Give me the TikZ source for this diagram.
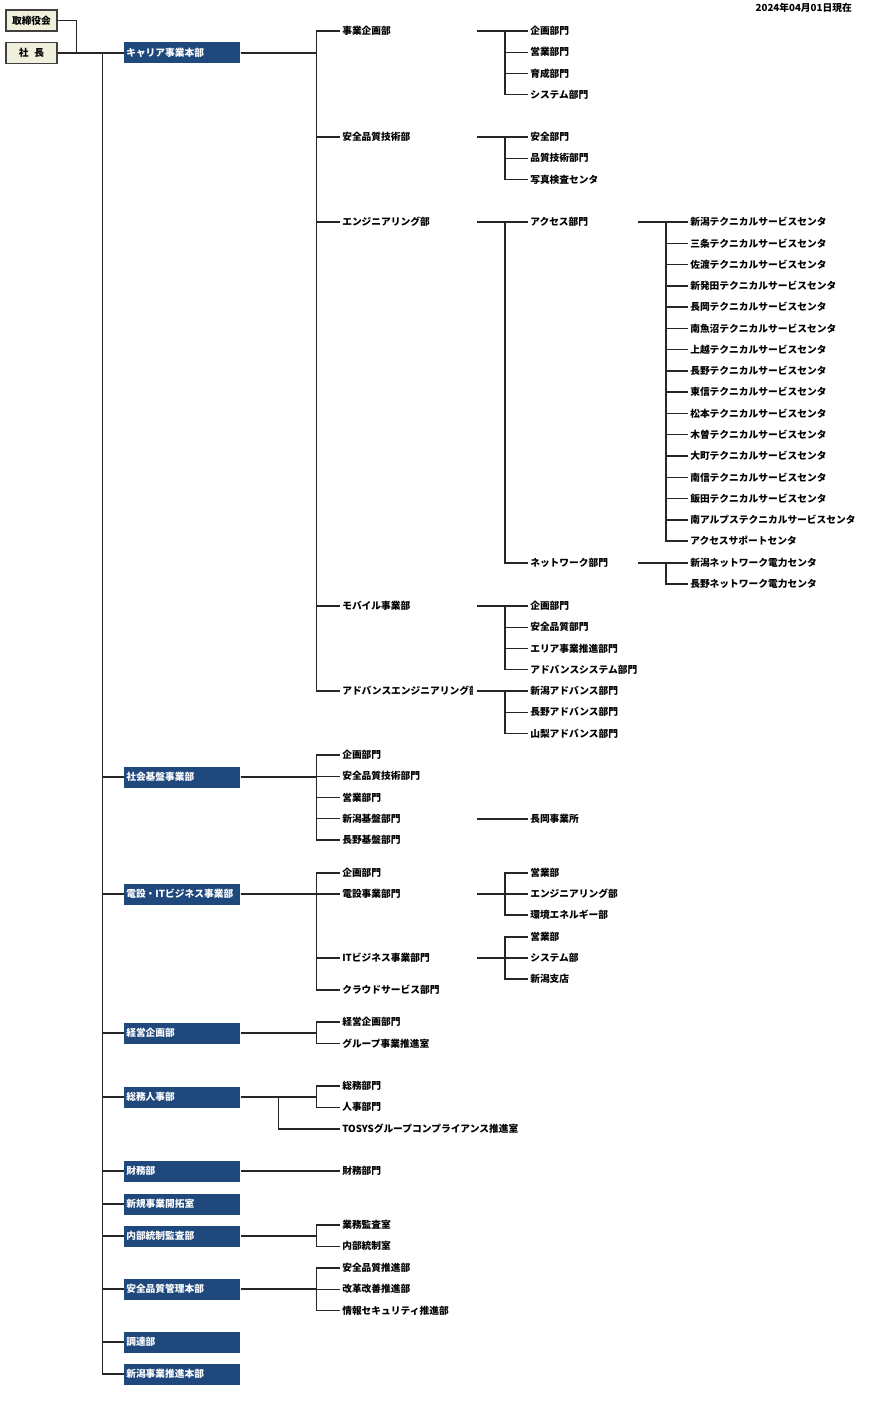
\documentclass[tikz,border=0pt]{standalone}
\usepackage{fontspec}
\setmainfont{Noto Sans CJK JP}
\usepackage{xcolor}
\usetikzlibrary{positioning}

\definecolor{hqblue}{HTML}{1F497D}
\definecolor{topbeige}{HTML}{EFEFDC}

\tikzset{
  unitbox/.style={fill=hqblue, text=white, anchor=west, minimum width=87pt,
    minimum height=15.75pt, text width=84pt, inner xsep=1.5pt, inner ysep=0pt,
    align=left, font=\bfseries\fontsize{7.3}{8}\selectfont},
  topbox/.style={draw=black!75, line width=1pt, fill=topbeige, minimum width=38.25pt,
    minimum height=15.75pt, inner sep=0pt, font=\bfseries\fontsize{7.3}{8}\selectfont},
  lbl/.style={anchor=west, inner xsep=1.5pt, inner ysep=1pt,
    font=\bfseries\fontsize{7.3}{8}\selectfont},
  tie/.style={line width=1.1pt, black!85}
}

\begin{document}
\begin{tikzpicture}[x=0.75pt,y=-0.75pt]
        \useasboundingbox (0,0) rectangle (868,1401);

        % Board and president
        \node[topbox] (board) at (31.5,20.5) {取締役会};
        \node[topbox] (pres) at (31.5,53) {社\hspace{0.6em}長};
        \node[lbl, anchor=east] (date) at (854,8) {2024年04月01日現在};
        \draw[tie] (board.east) -- ++(19,0) |- (pres.east);

        % Units on the main spine
        \foreach \name/\y/\txt in {cr/53/キャリア事業本部, sk/777/社会基盤事業部,
            ds/894/電設・ITビジネス事業部, kk/1033/経営企画部, sj/1097/総務人事部,
            zm/1171/財務部, sh/1204/新規事業開拓室, nb/1236/内部統制監査部,
            aq/1289/安全品質管理本部, ct/1342/調達部, nj/1374/新潟事業推進本部} {
            \node[unitbox] (\name) at (124,\y) {\txt};
            \draw[tie] (pres.east) -- ++(45,0) |- (\name.west);
        }

        % Career divisions
        \foreach \name/\y/\txt in {jk/31/事業企画部, ag/137/安全品質技術部,
            en/222/エンジニアリング部, mb/606/モバイル事業部} {
            \node[lbl] (\name) at (340,\y) {\txt};
            \draw[tie] (cr.east) -- ++(76,0) |- (\name.west);
        }
        \begin{scope}
            \clip (330,680) rectangle (472,702);
            \node[lbl] (ad) at (340,691) {アドバンスエンジニアリング部};
        \end{scope}
        \draw[tie] (cr.east) -- ++(76,0) |- (ad.west);

        % Departments of the career divisions
        \foreach \name/\y in {jk/31, ag/137, en/222, mb/606, ad/691}
            \coordinate (\name-o) at (477,\y);
        \foreach \p/\y/\kids in {jk/31/{企画部門,営業部門,育成部門,システム部門},
            ag/137/{安全部門,品質技術部門,写真検査センタ},
            mb/606/{企画部門,安全品質部門,エリア事業推進部門,アドバンスシステム部門},
            ad/691/{新潟アドバンス部門,長野アドバンス部門,山梨アドバンス部門}} {
            \foreach \t [count=\i] in \kids {
                \node[lbl] (\p\i) at (528,{\y+21.25*(\i-1)}) {\t};
                \draw[tie] (\p-o) -- ++(28,0) |- (\p\i.west);
            }
        }
        \node[lbl] (acc) at (528,222) {アクセス部門};
        \node[lbl] (nw) at (528,563) {ネットワーク部門};
        \draw[tie] (en-o) -- ++(28,0) |- (acc.west);
        \draw[tie] (en-o) -- ++(28,0) |- (nw.west);

        % Service centres
        \coordinate (acc-o) at (638,222);
        \foreach \t [count=\i] in {新潟,三条,佐渡,新発田,長岡,南魚沼,上越,長野,
            東信,松本,木曽,大町,南信,飯田,南アルプス} {
            \node[lbl] (ac\i) at (688,{222+21.27*(\i-1)}) {\t テクニカルサービスセンタ};
            \draw[tie] (acc-o) -- ++(28,0) |- (ac\i.west);
        }
        \node[lbl] (ac16) at (688,541) {アクセスサポートセンタ};
        \draw[tie] (acc-o) -- ++(28,0) |- (ac16.west);
        \coordinate (nw-o) at (638,563);
        \node[lbl] (nw1) at (688,563) {新潟ネットワーク電力センタ};
        \node[lbl] (nw2) at (688,584) {長野ネットワーク電力センタ};
        \draw[tie] (nw-o) -- ++(28,0) |- (nw1.west);
        \draw[tie] (nw-o) -- ++(28,0) |- (nw2.west);

        % Departments of the other units
        \foreach \p/\y/\kids in {sk/755/{企画部門,安全品質技術部門,営業部門,新潟基盤部門,長野基盤部門},
            kk/1022/{経営企画部門,グループ事業推進室},
            sj/1086/{総務部門,人事部門},
            nb/1225/{業務監査室,内部統制室},
            aq/1268/{安全品質推進部,改革改善推進部,情報セキュリティ推進部}} {
            \foreach \t [count=\i] in \kids {
                \node[lbl] (\p\i) at (340,{\y+21.25*(\i-1)}) {\t};
                \draw[tie] (\p.east) -- ++(76,0) |- (\p\i.west);
            }
        }
        \coordinate (sk4-o) at (477,819);
        \node[lbl] (sk41) at (528,819) {長岡事業所};
        \draw[tie] (sk4-o) -- (sk41.west);

        \node[lbl] (sj3) at (340,1129) {TOSYSグループコンプライアンス推進室};
        \draw[tie] (sj.east) -- ++(38,0) |- (sj3.west);
        \node[lbl] (zm1) at (340,1171) {財務部門};
        \draw[tie] (zm.east) -- (zm1.west);

        % Densetsu and IT business
        \foreach \name/\y/\txt in {ds1/873/企画部門, ds2/894/電設事業部門,
            ds3/958/ITビジネス事業部門, ds4/990/クラウドサービス部門} {
            \node[lbl] (\name) at (340,\y) {\txt};
            \draw[tie] (ds.east) -- ++(76,0) |- (\name.west);
        }
        \foreach \p/\y/\kids in {ds2/894/{営業部,エンジニアリング部,環境エネルギー部},
            ds3/958/{営業部,システム部,新潟支店}} {
            \coordinate (\p-o) at (477,\y);
            \foreach \t [count=\i] in \kids {
                \node[lbl] (\p\i) at (528,{\y-21+21*(\i-1)}) {\t};
                \draw[tie] (\p-o) -- ++(28,0) |- (\p\i.west);
            }
        }
    \end{tikzpicture}
\end{document}
